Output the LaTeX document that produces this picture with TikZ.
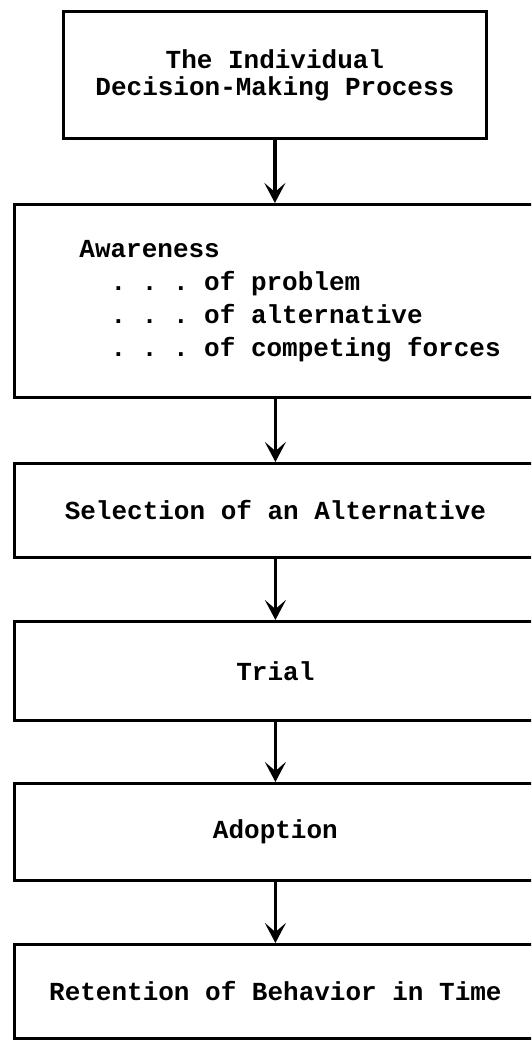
\documentclass[tikz,border=0pt]{standalone}
\usepackage{fontspec}
\setmonofont{Liberation Mono}
\usepackage{tikz}
\usetikzlibrary{arrows.meta}

\begin{document}
\begin{tikzpicture}[x=1pt,y=-1pt,
  stepbox/.style={draw,line width=2.8pt,anchor=north west,inner sep=0pt,
    font=\ttfamily\bfseries\fontsize{26}{27}\selectfont},
  flow/.style={line width=3.6pt,-{Stealth[length=20pt,width=21pt,inset=9pt]}}]
  \useasboundingbox (0,0) rectangle (531,1040);
  \clip (0,0) rectangle (531,1040);
  \frenchspacing
  % heading box
  \node[stepbox,minimum width=423pt,minimum height=127pt,align=flush center] (head) at (62,10)
    {The Individual\\Decision-Making Process};
  % awareness box, open to the right
  \node[stepbox,text width=430pt,inner xsep=65pt,minimum height=193pt,align=flush left,
    font=\ttfamily\bfseries\fontsize{26}{33}\selectfont] (aware) at (13,203)
    {Awareness\\
     \hspace*{31.2pt}. . . of problem\\
     \hspace*{31.2pt}. . . of alternative\\
     \hspace*{31.2pt}. . . of competing forces};
  % the later steps
  \node[stepbox,minimum width=522pt,minimum height=94pt] (select) at (13,462) {Selection of an Alternative};
  \node[stepbox,minimum width=522pt,minimum height=99pt] (trial) at (13,620) {Trial};
  \node[stepbox,minimum width=522pt,minimum height=97pt] (adopt) at (13,782) {Adoption};
  \node[stepbox,minimum width=522pt,minimum height=94pt] (retain) at (13,943) {Retention of Behavior in Time};
  % arrows
  \draw[flow] (head.south) -- (head.south |- aware.north);
  \draw[flow] (select.north |- aware.south) -- (select.north);
  \draw[flow] (select.south) -- (trial.north);
  \draw[flow] (trial.south) -- (adopt.north);
  \draw[flow] (adopt.south) -- (retain.north);
\end{tikzpicture}
\end{document}
